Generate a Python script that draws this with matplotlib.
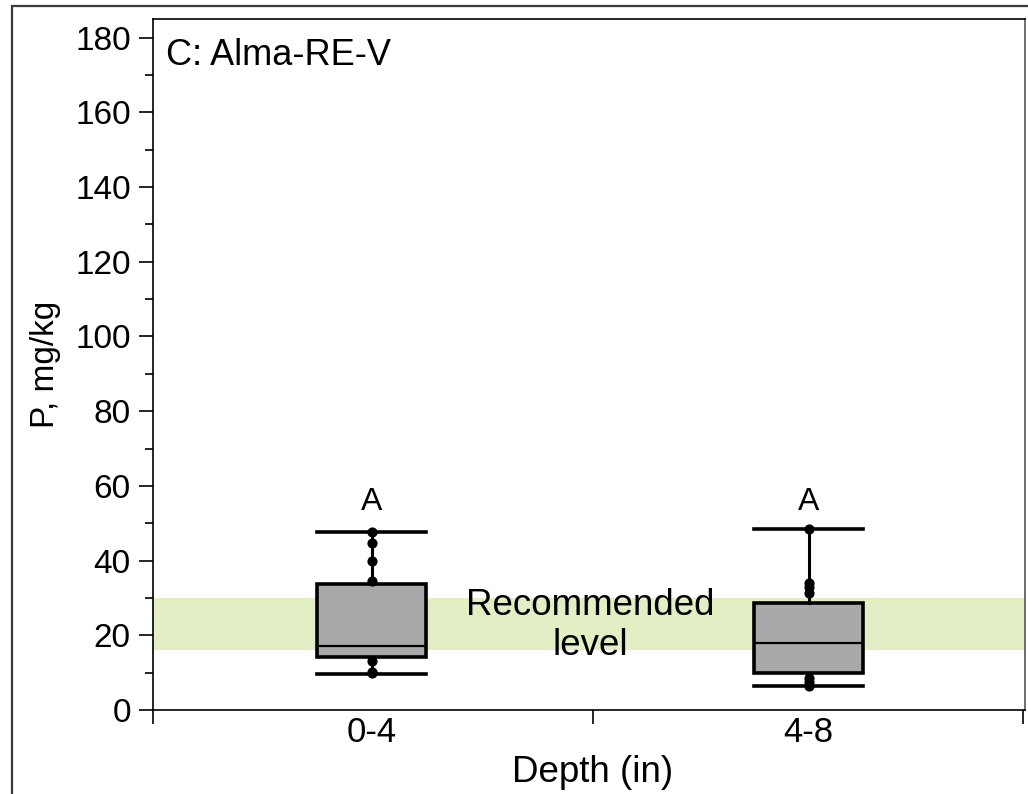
import matplotlib
matplotlib.use("Agg")
import matplotlib.pyplot as plt
from matplotlib.patches import Rectangle

plt.rcParams['font.family'] = ['Liberation Sans', 'DejaVu Sans']

# ---- data ----
categories = ["0-4", "4-8"]
q1 = [14.2, 9.9]
median = [17.1, 17.9]
q3 = [33.8, 28.7]
whisker_low = [9.6, 6.4]
whisker_high = [47.7, 48.5]
points_04 = [47.7, 44.7, 40.0, 34.6, 13.1, 10.2, 9.8]
points_48 = [48.5, 34.0, 33.0, 31.3, 8.6, 7.5, 6.4]
letters = ["A", "A"]
letter_y = [55.8, 55.8]
rec_low, rec_high = 16, 30
panel_title = "C: Alma-RE-V"
ylabel = "P, mg/kg"
xlabel = "Depth (in)"
yticks = list(range(0, 181, 20))

fig = plt.figure(figsize=(10.28, 7.94), dpi=100)
ax = fig.add_axes([153/1028, 1-710/794, (1025-153)/1028, (710-19)/794])

# outer frame (left/top visible)
fig.patches.append(Rectangle((12/1028, -0.05), 1.2, 1-6/794+0.05, transform=fig.transFigure,
                             fill=False, edgecolor='#3a3a3a', linewidth=1.6, zorder=0))

positions = [1, 2]
ax.axhspan(rec_low, rec_high, color='#e2eec4', zorder=0, lw=0)
ax.text(1.5, 22.6, "Recommended\nlevel", ha='center', va='center',
        fontsize=26.5, linespacing=1.18, zorder=1)

stats = []
for i in range(len(categories)):
    stats.append(dict(med=median[i], q1=q1[i], q3=q3[i],
                      whislo=whisker_low[i], whishi=whisker_high[i], fliers=[]))
ax.bxp(stats, positions=positions, widths=0.25, patch_artist=True, showfliers=False,
       boxprops=dict(facecolor='#a9a9a9', edgecolor='black', linewidth=2.6),
       medianprops=dict(color='black', linewidth=1.6),
       whiskerprops=dict(color='black', linewidth=2.2),
       capprops=dict(color='black', linewidth=2.6),
       capwidths=0.25, zorder=3)

for pos, pts in zip(positions, [points_04, points_48]):
    ax.scatter([pos] * len(pts), pts, s=40, color='black', zorder=4)

for pos, ly, lab in zip(positions, letter_y, letters):
    ax.text(pos, ly, lab, ha='center', va='center', fontsize=23)

ax.text(0.015, 180.0, panel_title, transform=ax.get_yaxis_transform(), ha='left', va='top',
        fontsize=26)

ax.set_xlim(0.5, 2.495)
ax.set_ylim(0, 185)
ax.set_yticks(yticks)
ax.set_yticks(list(range(10, 181, 20)), minor=True)
ax.set_xticks([0.5, 1.506, 2.49])
ax.set_xticklabels([])
ax.tick_params(axis='both', which='major', direction='out', length=10, width=1.2, labelsize=24, pad=6)
ax.tick_params(axis='y', which='minor', direction='out', length=6, width=1.2)
for pos, lab in zip(positions, categories):
    ax.text(pos, -1.7, lab, ha='center', va='top', fontsize=25)
ax.set_ylabel(ylabel, fontsize=24)
ax.yaxis.set_label_coords(-0.106, 0.5)
ax.text(1.506, -16.6, xlabel, ha='center', va='center', fontsize=26.5)
for s in ax.spines.values():
    s.set_linewidth(1.2)
ax.spines['right'].set_color('#555555')

fig.savefig("out.png", dpi=100)
